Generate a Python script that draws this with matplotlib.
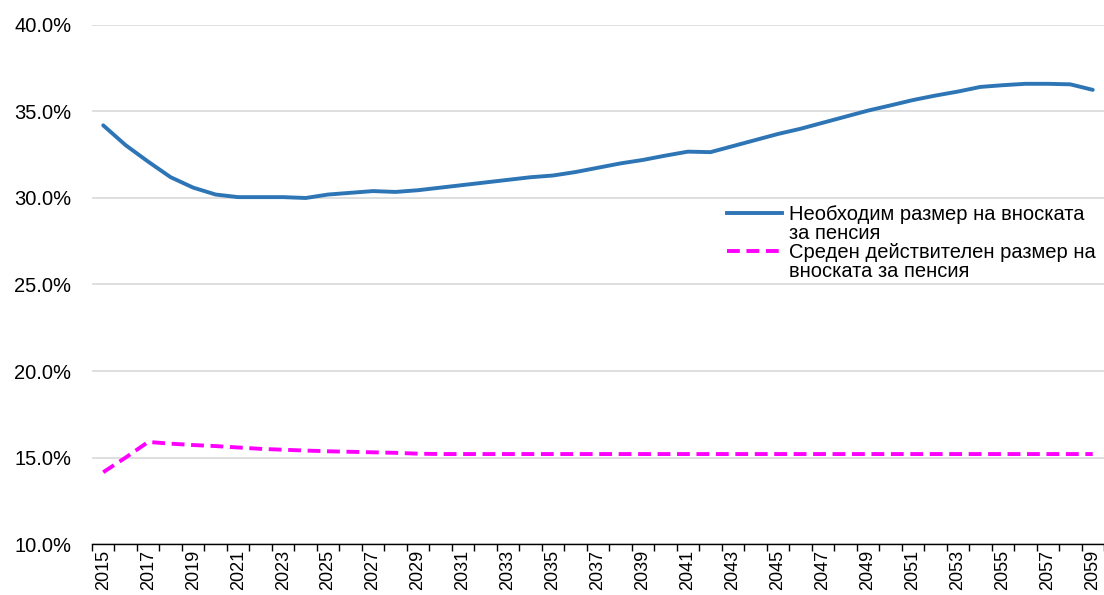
import matplotlib.pyplot as plt
import numpy as np
from matplotlib.lines import Line2D
from matplotlib.ticker import FixedLocator, PercentFormatter

plt.rcParams['font.family'] = ['Liberation Sans', 'DejaVu Sans']

# Години на прогнозата
godini = list(range(2015, 2060))

# Необходим размер на вноската за пенсия (%)
neobhodim = [34.2, 33.05, 32.1, 31.2, 30.6, 30.2, 30.05, 30.05, 30.05, 30.0,
             30.2, 30.3, 30.4, 30.35, 30.45, 30.6, 30.75, 30.9, 31.05, 31.2,
             31.3, 31.5, 31.75, 32.0, 32.2, 32.45, 32.68, 32.65, 33.0, 33.35,
             33.7, 34.0, 34.35, 34.7, 35.05, 35.35, 35.66, 35.92, 36.15, 36.42,
             36.52, 36.6, 36.6, 36.57, 36.25]

# Среден действителен размер на вноската за пенсия (%)
deistvitelen = [14.15, 15.0, 15.9, 15.8, 15.72, 15.66, 15.58, 15.5, 15.45, 15.4,
                15.36, 15.33, 15.3, 15.27, 15.22, 15.2, 15.2, 15.2, 15.2, 15.2,
                15.2, 15.2, 15.2, 15.2, 15.2, 15.2, 15.2, 15.2, 15.2, 15.2,
                15.2, 15.2, 15.2, 15.2, 15.2, 15.2, 15.2, 15.2, 15.2, 15.2,
                15.2, 15.2, 15.2, 15.2, 15.2]

etiketi = [("Необходим размер на вноската", "за пенсия"),
           ("Среден действителен размер на", "вноската за пенсия")]

sin = '#2E75B6'
rozov = '#FF00FF'
pukanki = (0, (3.3, 1.7))

fig = plt.figure(figsize=(11.04, 5.95), dpi=100)
ax = fig.add_axes([0.0833, 0.0857, 0.9167, 0.8723])

x = np.arange(len(godini))
ax.plot(x, neobhodim, color=sin, linewidth=2.8, solid_capstyle='round')
ax.plot(x, deistvitelen, color=rozov, linewidth=2.8, linestyle=pukanki)

ax.set_xlim(-0.5, len(godini) - 0.5)
ax.set_ylim(10, 40)
ax.set_yticks(np.arange(10, 41, 5))
ax.yaxis.set_major_formatter(PercentFormatter(decimals=1))
ax.grid(axis='y', color='#D9D9D9', linewidth=1.2)
ax.set_axisbelow(True)

# етикети през година, чертички между категориите
ax.set_xticks(x[::2])
ax.set_xticklabels([str(g) for g in godini[::2]], rotation=90)
ax.xaxis.set_minor_locator(FixedLocator(np.arange(-0.5, len(godini), 1)))
ax.tick_params(axis='x', which='major', length=0, pad=4, labelsize=13)
ax.tick_params(axis='x', which='minor', length=5, width=1, color='black')
ax.tick_params(axis='y', length=0, pad=15, labelsize=14.5)

for s in ['top', 'right', 'left']:
    ax.spines[s].set_visible(False)
ax.spines['bottom'].set_color('black')
ax.spines['bottom'].set_linewidth(1)

# легенда: линията стои срещу първия ред на всеки надпис
prazno = Line2D([], [], color='none')
dr = [Line2D([], [], color=sin, linewidth=2.8), prazno,
      Line2D([], [], color=rozov, linewidth=2.8, linestyle=pukanki), prazno]
nadpisi = [etiketi[0][0], etiketi[0][1], etiketi[1][0], etiketi[1][1]]
ax.legend(dr, nadpisi, loc='upper left', bbox_to_anchor=(0.627, 0.653),
          frameon=False, fontsize=14.5, handlelength=2.75, handletextpad=0.35,
          labelspacing=0.0, borderaxespad=0, borderpad=0)

fig.savefig('out.png', dpi=100)
